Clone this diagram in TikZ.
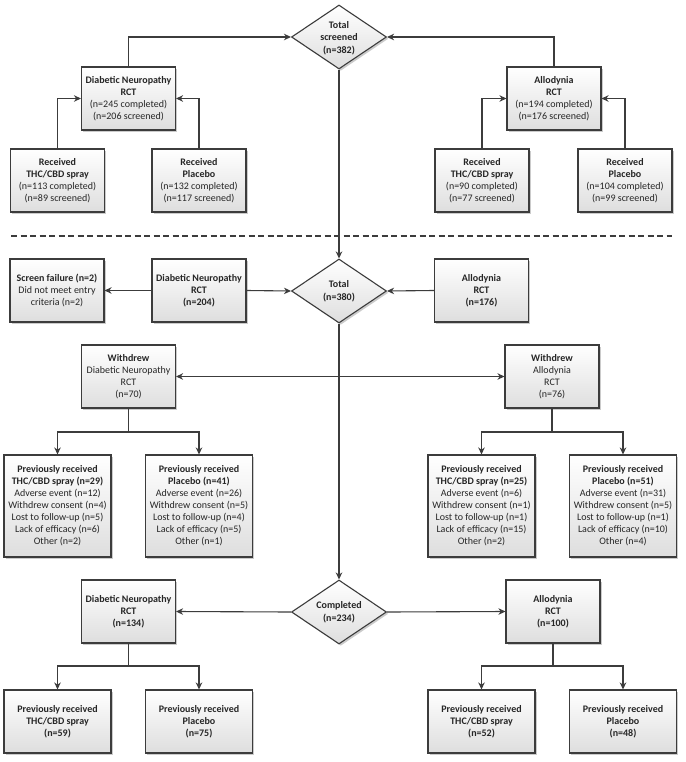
\documentclass[tikz,border=0pt]{standalone}
\usepackage{fontspec}
\setmainfont{Carlito}
\usetikzlibrary{shapes.geometric,arrows.meta,shadows}
\definecolor{linec}{HTML}{3C3C3C}
\definecolor{txtc}{HTML}{262626}
\begin{document}
\begin{tikzpicture}[x=1pt,y=-1pt,
  every node/.style={font=\fontsize{10}{12}\selectfont, text=txtc},
  shd/.style={drop shadow={shadow xshift=1.8pt,shadow yshift=-1.8pt,fill=black!45,opacity=0.45}},
  bx/.style={draw=linec, line width=1.1pt, top color=white, bottom color=black!13, shd,
    align=center, inner sep=1pt, minimum width=#1, minimum height=63pt},
  bx/.default=94pt,
  tall/.style={minimum height=102pt},
  dm/.style={diamond, draw=linec, line width=1.1pt, top color=white, bottom color=black!13, shd,
    minimum width=95pt, minimum height=64pt, inner sep=0pt},
  bt/.style={font=\fontsize{10}{12.5}\selectfont\bfseries, align=center},
  ln/.style={draw=linec, line width=1.1pt},
  arr/.style={ln, -{Stealth[length=7pt,width=6.5pt,inset=2.2pt]}},
  arrb/.style={ln, {Stealth[length=7pt,width=6.5pt,inset=2.2pt]}-{Stealth[length=7pt,width=6.5pt,inset=2.2pt]}},
  dline/.style={draw=linec, line width=1.1pt, dash pattern=on 6pt off 3.5pt}
]
\fill[white] (0,0) rectangle (685,762);
\useasboundingbox (0,0) rectangle (685,762);

% ---------- screening ----------
\node[dm] (d1) at (339,37) {};
\node[bt] (d1t) at (339,38) {Total\\screened\\(n=382)};

\node[bx] (dn1) at (128.5,98.5) {\textbf{Diabetic Neuropathy}\\\textbf{RCT}\\(n=245 completed)\\(n=206 screened)};
\node[bx] (al1) at (554,98.5) {\textbf{Allodynia}\\\textbf{RCT}\\(n=194 completed)\\(n=176 screened)};

\node[bx] (c1) at (57.5,180.5) {\textbf{Received}\\\textbf{THC/CBD spray}\\(n=113 completed)\\(n=89 screened)};
\node[bx] (c2) at (199,180.5) {\textbf{Received}\\\textbf{Placebo}\\(n=132 completed)\\(n=117 screened)};
\node[bx] (c3) at (482,180.5) {\textbf{Received}\\\textbf{THC/CBD spray}\\(n=90 completed)\\(n=77 screened)};
\node[bx] (c4) at (625,180.5) {\textbf{Received}\\\textbf{Placebo}\\(n=104 completed)\\(n=99 screened)};

\draw[arr] (dn1.north) |- (d1.west);
\draw[arr] (al1.north) |- (d1.east);
\draw[arr] (c1.north) |- (dn1.west);
\draw[arr] (c2.north) |- (dn1.east);
\draw[arr] (c3.north) |- (al1.west);
\draw[arr] (c4.north) |- (al1.east);

% ---------- dashed separator ----------
\coordinate (dl) at (11,236);
\coordinate (dr) at (672,236);
\draw[dline] (dl) -- (dr);

% ---------- enrolment ----------
\node[dm] (d2) at (339,291) {};
\node[bt] (d2t) at (339,291) {Total\\(n=380)};

\node[bx] (sf) at (57,290.5) {\textbf{Screen failure (n=2)}\\Did not meet entry\\criteria (n=2)};
\node[bx] (dn2) at (199,290.5) {\textbf{Diabetic Neuropathy}\\\textbf{RCT}\\\textbf{(n=204)}};
\node[bx] (al2) at (481.5,290.5) {\textbf{Allodynia}\\\textbf{RCT}\\\textbf{(n=176)}};

\draw[arr] (d1.south) -- (d2.north);
\draw[arr] (dn2.west) -- (sf.east);
\draw[arr] (dn2.east) -- (d2.west);
\draw[arr] (al2.west) -- (d2.east);

% ---------- withdrawals ----------
\node[bx] (wd1) at (128.5,376.5) {\textbf{Withdrew}\\Diabetic Neuropathy\\RCT\\(n=70)};
\node[bx] (wd2) at (552,376.5) {\textbf{Withdrew}\\Allodynia\\RCT\\(n=76)};
\draw[arrb] (wd1.east) -- (wd2.west);

\node[bx=107pt, tall] (p1) at (57.5,506) {\textbf{Previously received}\\\textbf{THC/CBD spray (n=29)}\\Adverse event (n=12)\\Withdrew consent (n=4)\\Lost to follow-up (n=5)\\Lack of efficacy (n=6)\\Other (n=2)};
\node[bx=107pt, tall] (p2) at (199,506) {\textbf{Previously received}\\\textbf{Placebo (n=41)}\\Adverse event (n=26)\\Withdrew consent (n=5)\\Lost to follow-up (n=4)\\Lack of efficacy (n=5)\\Other (n=1)};
\node[bx=107pt, tall] (p3) at (481.5,506) {\textbf{Previously received}\\\textbf{THC/CBD spray (n=25)}\\Adverse event (n=6)\\Withdrew consent (n=1)\\Lost to follow-up (n=1)\\Lack of efficacy (n=15)\\Other (n=2)};
\node[bx=107pt, tall] (p4) at (623,506) {\textbf{Previously received}\\\textbf{Placebo (n=51)}\\Adverse event (n=31)\\Withdrew consent (n=5)\\Lost to follow-up (n=1)\\Lack of efficacy (n=10)\\Other (n=4)};

\coordinate (b1) at (128.5,432);
\coordinate (b2) at (552,432);
\draw[ln] (wd1.south) -- (b1);
\draw[arr] (b1) -| (p1.north);
\draw[arr] (b1) -| (p2.north);
\draw[ln] (wd2.south) -- (b2);
\draw[arr] (b2) -| (p3.north);
\draw[arr] (b2) -| (p4.north);

% ---------- completed ----------
\node[dm] (d3) at (339,612) {};
\node[bt] (d3t) at (339,612) {Completed\\(n=234)};
\draw[arr] (d2.south) -- (d3.north);

\node[bx] (cd1) at (128.5,611.5) {\textbf{Diabetic Neuropathy}\\\textbf{RCT}\\\textbf{(n=134)}};
\node[bx] (cd2) at (553,611.5) {\textbf{Allodynia}\\\textbf{RCT}\\\textbf{(n=100)}};
\draw[arr] (d3.west) -- (cd1.east);
\draw[arr] (d3.east) -- (cd2.west);

\node[bx=107pt] (f1) at (57.5,721.5) {\textbf{Previously received}\\\textbf{THC/CBD spray}\\\textbf{(n=59)}};
\node[bx=107pt] (f2) at (199,721.5) {\textbf{Previously received}\\\textbf{Placebo}\\\textbf{(n=75)}};
\node[bx=107pt] (f3) at (481.5,721.5) {\textbf{Previously received}\\\textbf{THC/CBD spray}\\\textbf{(n=52)}};
\node[bx=107pt] (f4) at (623,721.5) {\textbf{Previously received}\\\textbf{Placebo}\\\textbf{(n=48)}};

\coordinate (b3) at (128.5,666);
\coordinate (b4) at (553,666);
\draw[ln] (cd1.south) -- (b3);
\draw[arr] (b3) -| (f1.north);
\draw[arr] (b3) -| (f2.north);
\draw[ln] (cd2.south) -- (b4);
\draw[arr] (b4) -| (f3.north);
\draw[arr] (b4) -| (f4.north);
\end{tikzpicture}
\end{document}
